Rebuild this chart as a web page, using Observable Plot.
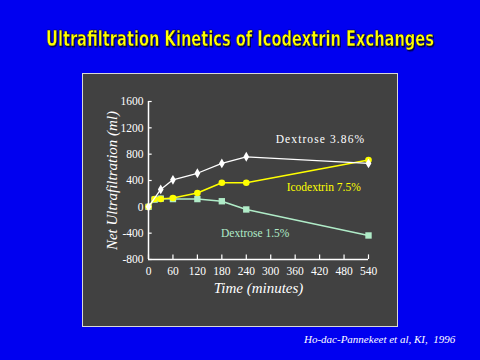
<!DOCTYPE html>
<html>
<head>
<meta charset="utf-8">
<script src="https://cdn.jsdelivr.net/npm/d3@7"></script>
<script src="https://cdn.jsdelivr.net/npm/@observablehq/plot@0.6"></script>
<style>
  html, body { margin: 0; padding: 0; }
  body { width: 480px; height: 360px; background: #0000f0; position: relative; overflow: hidden; }
  #title { position: absolute; left: 0; top: 0; }
  #panel { position: absolute; left: 82px; top: 73px; width: 314px; height: 252px;
    background: #414141; border: 1px solid #d8d8d8; }
  #chart { position: absolute; left: 0; top: 0; }
  #chart svg, #chart svg * { font-family: "Liberation Serif", "DejaVu Serif", serif !important; }
  #caption { position: absolute; left: 304px; top: 333px; font-family: "Liberation Serif", serif;
    font-style: italic; font-size: 11px; color: #ffffff; }
</style>
</head>
<body>
<svg id="title" width="480" height="60">
  <text transform="translate(240,46) scale(1,1.3)" text-anchor="middle" textLength="388" lengthAdjust="spacingAndGlyphs"
    font-family="DejaVu Sans Condensed, DejaVu Sans, sans-serif" font-weight="bold" font-size="16.5"
    fill="#ffff00" stroke="#000033" stroke-width="0.3"
    style="filter: drop-shadow(1px 1px 0 #000050)">Ultrafiltration Kinetics of Icodextrin Exchanges</text>
</svg>
<div id="panel"></div>
<div id="chart"></div>
<div id="caption">Ho-dac-Pannekeet et al, KI,&nbsp; 1996</div>
<script>
const seriesNames = ["Dextrose 3.86%", "Icodextrin 7.5%", "Dextrose 1.5%"];
const dex386Time = [0, 30, 60, 120, 180, 240, 540];
const dex386Vals = [0, 265, 410, 510, 660, 760, 660];
const icoTime = [0, 15, 30, 60, 120, 180, 240, 540];
const icoVals = [0, 120, 120, 135, 210, 365, 365, 710];
const dex15Time = [0, 15, 30, 60, 120, 180, 240, 540];
const dex15Vals = [0, 110, 125, 118, 118, 85, -40, -435];
const xTicks = [0, 60, 120, 180, 240, 300, 360, 420, 480, 540];
const yTicks = [-800, -400, 0, 400, 800, 1200, 1600];
const labelX = [422, 430, 262];
const labelY = [1030, 300, -395];
const colors = ["#ffffff", "#ffff00", "#b0ecc8"];

const toRows = (t, v) => t.map((d, i) => ({t: d, v: v[i]}));
const dex386 = toRows(dex386Time, dex386Vals);
const ico = toRows(icoTime, icoVals);
const dex15 = toRows(dex15Time, dex15Vals);
const labels = seriesNames.map((n, i) => ({name: n, x: labelX[i], y: labelY[i], c: colors[i]}));

const font = "Liberation Serif";
const chart = Plot.plot({
  width: 480, height: 360,
  marginLeft: 148, marginRight: 112, marginTop: 101, marginBottom: 101,
  style: {background: "transparent", fontFamily: font, fontSize: "11px", color: "#ffffff"},
  x: {domain: [0, 540]},
  y: {domain: [-800, 1600]},
  marks: [
    Plot.axisX(xTicks, {tickSize: 0, tickPadding: 7, fontSize: 11.5, fill: "#ffffff", label: null, tickFormat: d => String(d)}),
    Plot.axisY(yTicks, {tickSize: 0, tickPadding: 5, fontSize: 11.5, fill: "#ffffff", label: null, tickFormat: d => String(d)}),
    Plot.ruleY(yTicks, {x1: 0, x2: 9, stroke: "#ffffff", strokeWidth: 1.2}),
    Plot.ruleX(xTicks, {y1: -800, y2: -730, stroke: "#ffffff", strokeWidth: 1.2}),
    Plot.ruleX([0], {y1: -800, y2: 1600, stroke: "#ffffff", strokeWidth: 1.5}),
    Plot.ruleY([-800], {x1: 0, x2: 540, stroke: "#ffffff", strokeWidth: 1.5}),
    Plot.line(dex15, {x: "t", y: "v", stroke: colors[2], strokeWidth: 1.5}),
    Plot.dot(dex15, {x: "t", y: "v", symbol: "square", fill: colors[2], r: 3.6}),
    Plot.line(ico, {x: "t", y: "v", stroke: colors[1], strokeWidth: 1.5}),
    Plot.dot(ico, {x: "t", y: "v", symbol: "circle", fill: colors[1], r: 3.3}),
    Plot.line(dex386, {x: "t", y: "v", stroke: colors[0], strokeWidth: 1.3}),
    Plot.dot(dex386, {x: "t", y: "v", symbol: "diamond", fill: colors[0], r: 3}),
    Plot.text(labels, {x: "x", y: "y", text: "name", fill: "c", fontSize: 11.5, fontFamily: font}),
    Plot.text(["Time (minutes)"], {frameAnchor: "bottom", dy: 33, fontSize: 15, fontStyle: "italic", fill: "#ffffff", fontFamily: font}),
    Plot.text(["Net Ultrafiltration (ml)"], {frameAnchor: "left", textAnchor: "middle", dx: -36, rotate: -90, fontSize: 15, fontStyle: "italic", fill: "#ffffff", fontFamily: font})
  ]
});
d3.select(chart).selectAll("text").filter(function() { return this.textContent === seriesNames[0]; })
  .style("letter-spacing", "1.1px");
document.getElementById("chart").appendChild(chart);
</script>
</body>
</html>
